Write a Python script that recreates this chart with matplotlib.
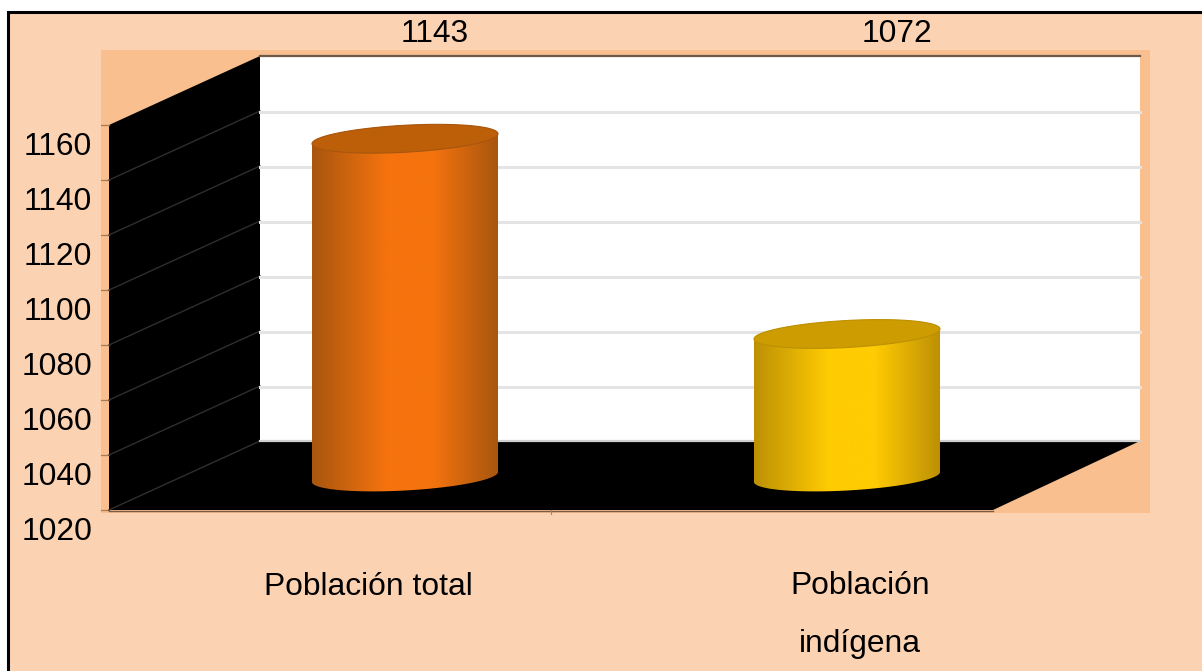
import numpy as np
import matplotlib
matplotlib.use("Agg")
import matplotlib.pyplot as plt
from matplotlib.patches import Polygon, Rectangle, PathPatch
from matplotlib.path import Path
from matplotlib.colors import LinearSegmentedColormap
from matplotlib.transforms import ScaledTranslation

# data
categories = ["Población total", "Población\n\nindígena"]
values = [1143, 1072]
yticks = [1020, 1040, 1060, 1080, 1100, 1120, 1140, 1160]

W, H = 1202, 671
plt.rcParams["font.family"] = ["Liberation Sans", "DejaVu Sans"]
FS = 22.9

fig = plt.figure(figsize=(W / 100, H / 100), dpi=100, facecolor="white")

# pixel canvas for the frame and the 3d box
bg = fig.add_axes([0, 0, 1, 1])
bg.set_xlim(0, W)
bg.set_ylim(H, 0)
bg.axis("off")

PEACH = "#fbd2b2"
PEACH2 = "#f9bf8f"
bg.add_patch(Rectangle((8, 12), W - 8, H - 12, fc=PEACH, ec="none"))
bg.plot([7.5, 7.5, W], [H, 12, 12], color="black", lw=2.2, solid_joinstyle="miter")
bg.add_patch(Rectangle((101, 50), 1049, 463, fc=PEACH2, ec="none"))

# box corners
x0, x1 = 109, 993
y_bot, y_top = 510, 125
dx, dy = 151, 69
sc = (y_bot - y_top) / (yticks[-1] - yticks[0])

bg.add_patch(Rectangle((x0 + dx, y_top - dy), x1 - x0 - 4, y_bot - y_top + 1, fc="white", ec="none"))
bg.plot([x0 + dx, x1 + dx - 4], [y_top - dy, y_top - dy], color="#6e5a48", lw=1.6)
bg.add_patch(Polygon([(x0, y_top), (x0 + dx, y_top - dy), (x0 + dx, y_bot - dy), (x0, y_bot)], fc="black", ec="none"))
bg.add_patch(Polygon([(x0, y_bot), (x0 + dx, y_bot - dy), (x1 + dy + 78, y_bot - dy), (x1, y_bot)], fc="black", ec="none"))

for t in yticks:
    yp = y_bot - (t - yticks[0]) * sc
    bg.plot([x0 - 8, x0], [yp, yp], color="#a87a55", lw=0.9)
    if t < yticks[-1]:
        bg.plot([x0, x0 + dx], [yp, yp - dy], color="#2e2e2e", lw=1.0)
    if t > yticks[0] and t < yticks[-1]:
        bg.plot([x0 + dx, x1 + dx - 4], [yp - dy + 1, yp - dy + 1], color="#e4e4e4", lw=2.2)
bg.plot([x0 + dx, x1 + dx - 4], [y_bot - dy, y_bot - dy], color="#d0d0d0", lw=1.6)
bg.plot([x0, x1], [y_bot + 0.5, y_bot + 0.5], color="#7a5c45", lw=1.0)
bg.plot([551, 551], [y_bot, y_bot + 4], color="#8a8a8a", lw=0.8)

# value axes on the front plane
ax = fig.add_axes([x0 / W, 1 - y_bot / H, (x1 - x0) / W, (y_bot - y_top) / H])
ax.patch.set_alpha(0)
ax.set_xlim(-0.5, 1.5)
ax.set_ylim(yticks[0], yticks[-1])
for s in ax.spines.values():
    s.set_visible(False)
ax.set_xticks([])
ax.set_yticks(yticks)
ax.tick_params(axis="y", length=0, pad=12, labelsize=FS)
for lab in ax.get_yticklabels():
    lab.set_va("top")
    lab.set_transform(lab.get_transform() + ScaledTranslation(0, -7 / 100, fig.dpi_scale_trans))

cat_px = (x1 - x0) / 2
depth_x = 75 / cat_px
depth_v = 33 / sc
half_w = 93 / cat_px
minor = 13.5 / sc
tilt = 5 / sc  # ellipse rises to the right


def draw_cyl(i, v, dark, mid, lid):
    cx = i + depth_x
    base = yticks[0] + depth_v
    top = v + depth_v
    cmap = LinearSegmentedColormap.from_list(
        "c", [(0, dark), (0.4, mid), (0.65, mid), (1, dark)], N=256)
    ts = np.linspace(np.pi, 2 * np.pi, 60)
    tt = np.linspace(0, np.pi, 60)
    lower_x = cx + half_w * np.cos(ts)
    lower_v = base + minor * np.sin(ts) + tilt * np.cos(ts)
    upper_x = cx + half_w * np.cos(tt)
    upper_v = top + minor * np.sin(tt) + tilt * np.cos(tt)
    # side of the cylinder, clipped gradient
    body = Path(np.column_stack([np.r_[lower_x, upper_x], np.r_[lower_v, upper_v]]))
    im = ax.imshow(np.linspace(0, 1, 256)[None, :],
                   extent=[cx - half_w, cx + half_w, base - minor * 2, top + minor * 2],
                   cmap=cmap, aspect="auto", origin="lower", zorder=3)
    patch = PathPatch(body, transform=ax.transData, fc="none", ec="none")
    ax.add_patch(patch)
    im.set_clip_path(patch)
    t = np.linspace(0, 2 * np.pi, 121)
    ex = cx + half_w * np.cos(t)
    ev = top + minor * np.sin(t) + tilt * np.cos(t)
    ax.fill(ex, ev, fc=lid, zorder=4, lw=0.8, ec=dark, clip_on=False)


draw_cyl(0, values[0], "#a8560f", "#f5730e", "#bd5f08")
draw_cyl(1, values[1], "#bd9005", "#ffcb02", "#cc9c00")
ax.set_xlim(-0.5, 1.5)
ax.set_ylim(yticks[0], yticks[-1])

# value labels above the box, category labels below
for xp, v in zip([435, 897], values):
    bg.text(xp, 34, str(v), ha="center", va="center", fontsize=FS, color="black")
for xp, name in zip([368, 860], categories):
    bg.text(xp, 587 if "\n" not in name else 615, name, ha="center", va="center", fontsize=FS,
            color="black", linespacing=0.95)

fig.savefig("out.png", dpi=100, facecolor="white")
